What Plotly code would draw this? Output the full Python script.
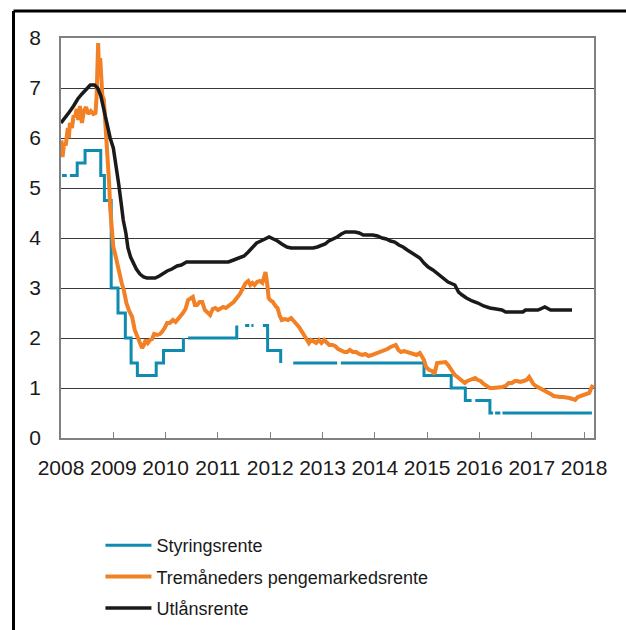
import plotly.graph_objects as go

# ---------------- data ----------------
# Styringsrente (step series, None = gap in the source series)
policy_x = [2008.02, 2008.11, None,
            2008.17, 2008.31, 2008.46, 2008.76, 2008.83, 2008.96, 2009.09, 2009.23,
            2009.34, 2009.46, 2009.82, 2009.96, 2010.34, None,
            2010.43, 2011.36, None,
            2011.52, 2011.60, None,
            2011.64, 2011.68, None,
            2011.86, 2011.95, 2012.20, None,
            2012.44, 2013.28, None,
            2013.35, 2014.94, 2015.46, 2015.73, 2015.85, None,
            2015.92, 2016.20, 2016.26, None,
            2016.30, 2016.40, None,
            2016.44, 2018.15]
policy_y = [5.25, 5.25, None,
            5.25, 5.5, 5.75, 5.25, 4.75, 3.0, 2.5, 2.0,
            1.5, 1.25, 1.5, 1.75, 2.0, None,
            2.0, 2.25, None,
            2.25, 2.25, None,
            2.25, 2.25, None,
            2.25, 1.75, 1.5, None,
            1.5, 1.5, None,
            1.5, 1.25, 1.0, 0.75, 0.75, None,
            0.75, 0.5, 0.5, None,
            0.5, 0.5, None,
            0.5, 0.5]

# Tremåneders pengemarkedsrente
nibor_x = [2008.00, 2008.01, 2008.03, 2008.06, 2008.09, 2008.11, 2008.13, 2008.15, 2008.17, 2008.21,
           2008.24, 2008.27, 2008.30, 2008.33, 2008.36, 2008.40, 2008.44, 2008.48, 2008.52, 2008.57,
           2008.62, 2008.66, 2008.68, 2008.71, 2008.72, 2008.75, 2008.77, 2008.79, 2008.82, 2008.84,
           2008.86, 2008.90, 2008.92, 2008.94, 2008.96, 2008.98, 2009.00, 2009.03, 2009.06, 2009.09,
           2009.12, 2009.16, 2009.20, 2009.25, 2009.30, 2009.36, 2009.41, 2009.46, 2009.51, 2009.55,
           2009.58, 2009.62, 2009.66, 2009.70, 2009.74, 2009.78, 2009.84, 2009.89, 2009.93, 2009.98,
           2010.03, 2010.08, 2010.14, 2010.19, 2010.24, 2010.30, 2010.33, 2010.38, 2010.43, 2010.48,
           2010.52, 2010.56, 2010.60, 2010.65, 2010.70, 2010.75, 2010.80, 2010.85, 2010.90, 2010.95,
           2011.00, 2011.05, 2011.10, 2011.15, 2011.20, 2011.25, 2011.30, 2011.36, 2011.42, 2011.48,
           2011.53, 2011.58, 2011.62, 2011.66, 2011.70, 2011.75, 2011.80, 2011.85, 2011.88, 2011.91,
           2011.94, 2011.97, 2012.00, 2012.05, 2012.10, 2012.14, 2012.18, 2012.22, 2012.28, 2012.34,
           2012.40, 2012.44, 2012.50, 2012.55, 2012.60, 2012.65, 2012.70, 2012.74, 2012.78, 2012.83,
           2012.88, 2012.93, 2012.98, 2013.03, 2013.08, 2013.13, 2013.19, 2013.24, 2013.30, 2013.36,
           2013.42, 2013.47, 2013.52, 2013.58, 2013.64, 2013.70, 2013.76, 2013.82, 2013.88, 2013.94,
           2014.00, 2014.06, 2014.12, 2014.18, 2014.24, 2014.30, 2014.36, 2014.40, 2014.45, 2014.50,
           2014.56, 2014.62, 2014.68, 2014.74, 2014.80, 2014.86, 2014.90, 2014.94, 2014.98, 2015.04,
           2015.09, 2015.14, 2015.19, 2015.25, 2015.30, 2015.35, 2015.40, 2015.44, 2015.48, 2015.53,
           2015.58, 2015.63, 2015.67, 2015.72, 2015.77, 2015.82, 2015.87, 2015.92, 2015.97, 2016.02,
           2016.08, 2016.14, 2016.20, 2016.26, 2016.32, 2016.38, 2016.44, 2016.50, 2016.56, 2016.62,
           2016.68, 2016.72, 2016.78, 2016.84, 2016.90, 2016.95, 2016.99, 2017.03, 2017.08, 2017.12,
           2017.18, 2017.24, 2017.30, 2017.36, 2017.42, 2017.48, 2017.54, 2017.60, 2017.66, 2017.72,
           2017.78, 2017.83, 2017.88, 2017.94, 2018.00, 2018.06, 2018.10, 2018.13, 2018.17]
nibor_y = [5.70, 5.95, 5.62, 5.90, 5.85, 6.02, 6.20, 6.00, 6.30, 6.20,
           6.45, 6.42, 6.58, 6.36, 6.64, 6.30, 6.55, 6.62, 6.48, 6.54,
           6.48, 6.50, 6.82, 7.90, 7.55, 7.60, 7.10, 6.85, 6.76, 6.42,
           6.20, 5.70, 5.10, 4.60, 4.30, 3.95, 3.82, 3.70, 3.55, 3.36,
           3.30, 3.10, 2.96, 2.70, 2.55, 2.42, 2.16, 2.00, 1.90, 1.80,
           1.85, 1.96, 1.90, 1.96, 1.98, 2.08, 2.06, 2.08, 2.12, 2.20,
           2.30, 2.30, 2.36, 2.32, 2.40, 2.46, 2.50, 2.58, 2.76, 2.80,
           2.82, 2.66, 2.66, 2.72, 2.72, 2.56, 2.52, 2.46, 2.58, 2.60,
           2.56, 2.58, 2.62, 2.60, 2.64, 2.70, 2.72, 2.80, 2.88, 3.00,
           3.10, 3.14, 3.06, 3.10, 3.06, 3.12, 3.14, 3.10, 3.20, 3.32,
           3.10, 2.80, 2.76, 2.72, 2.64, 2.60, 2.45, 2.36, 2.38, 2.36,
           2.40, 2.36, 2.28, 2.22, 2.14, 2.05, 1.98, 1.90, 1.96, 1.94,
           1.90, 1.96, 1.90, 1.96, 1.92, 1.86, 1.86, 1.84, 1.78, 1.74,
           1.72, 1.72, 1.76, 1.72, 1.72, 1.68, 1.66, 1.68, 1.64, 1.66,
           1.68, 1.70, 1.72, 1.76, 1.78, 1.82, 1.84, 1.86, 1.76, 1.72,
           1.74, 1.72, 1.68, 1.68, 1.66, 1.70, 1.62, 1.56, 1.42, 1.36,
           1.34, 1.28, 1.50, 1.50, 1.52, 1.52, 1.46, 1.40, 1.32, 1.26,
           1.22, 1.18, 1.16, 1.10, 1.14, 1.16, 1.18, 1.20, 1.16, 1.14,
           1.08, 1.04, 1.00, 1.00, 1.00, 1.00, 1.02, 1.04, 1.10, 1.10,
           1.14, 1.14, 1.12, 1.14, 1.16, 1.22, 1.16, 1.08, 1.04, 1.02,
           0.98, 0.94, 0.92, 0.88, 0.84, 0.82, 0.82, 0.82, 0.82, 0.80,
           0.78, 0.76, 0.82, 0.84, 0.86, 0.88, 0.90, 0.98, 1.06]

# Utlånsrente
lending_x = [2008.00, 2008.08, 2008.16, 2008.24, 2008.32, 2008.40, 2008.48, 2008.56, 2008.64, 2008.70,
             2008.76, 2008.82, 2008.88, 2008.94, 2009.00, 2009.05, 2009.10, 2009.15, 2009.19, 2009.24,
             2009.28, 2009.33, 2009.38, 2009.44, 2009.51, 2009.58, 2009.64, 2009.72, 2009.80, 2009.88,
             2009.96, 2010.03, 2010.12, 2010.22, 2010.30, 2010.40, 2010.60, 2010.80, 2011.00, 2011.20,
             2011.30, 2011.40, 2011.50, 2011.58, 2011.66, 2011.74, 2011.82, 2011.90, 2011.98, 2012.06,
             2012.14, 2012.22, 2012.32, 2012.40, 2012.60, 2012.82, 2012.90, 2012.98, 2013.05, 2013.12,
             2013.20, 2013.28, 2013.36, 2013.44, 2013.52, 2013.62, 2013.70, 2013.78, 2013.96, 2014.05,
             2014.14, 2014.22, 2014.30, 2014.38, 2014.46, 2014.54, 2014.62, 2014.70, 2014.78, 2014.86,
             2014.94, 2015.02, 2015.11, 2015.20, 2015.30, 2015.40, 2015.53, 2015.60, 2015.67, 2015.75,
             2015.86, 2015.97, 2016.08, 2016.20, 2016.32, 2016.43, 2016.50, 2016.83, 2016.88, 2017.12,
             2017.25, 2017.36, 2017.77]
lending_y = [6.30, 6.40, 6.52, 6.64, 6.78, 6.88, 6.98, 7.06, 7.06, 7.00,
             6.85, 6.55, 6.30, 6.00, 5.80, 5.50, 5.10, 4.70, 4.36, 4.10,
             3.80, 3.62, 3.50, 3.38, 3.28, 3.22, 3.20, 3.20, 3.20, 3.24,
             3.30, 3.34, 3.38, 3.44, 3.46, 3.52, 3.52, 3.52, 3.52, 3.52,
             3.56, 3.60, 3.64, 3.72, 3.82, 3.90, 3.94, 3.98, 4.02, 3.98,
             3.94, 3.88, 3.82, 3.80, 3.80, 3.80, 3.82, 3.86, 3.88, 3.94,
             3.98, 4.02, 4.08, 4.12, 4.12, 4.12, 4.10, 4.06, 4.06, 4.04,
             4.00, 3.98, 3.94, 3.92, 3.86, 3.82, 3.76, 3.70, 3.66, 3.60,
             3.50, 3.42, 3.36, 3.28, 3.20, 3.12, 3.06, 2.92, 2.86, 2.80,
             2.74, 2.70, 2.64, 2.60, 2.58, 2.56, 2.52, 2.52, 2.56, 2.56,
             2.62, 2.56, 2.56]

year_ticks = [2008, 2009, 2010, 2011, 2012, 2013, 2014, 2015, 2016, 2017, 2018]
year_labels = [str(y) for y in year_ticks]
y_ticks = [0, 1, 2, 3, 4, 5, 6, 7, 8]

series_names = ["Styringsrente", "Tremåneders pengemarkedsrente", "Utlånsrente"]
colors = ["#0f8bb0", "#f28025", "#1a1a1a"]

# ---------------- figure ----------------
fig = go.Figure()
fig.add_trace(go.Scatter(x=policy_x, y=policy_y, mode="lines", name=series_names[0], legendgroup="a",
                         line=dict(color=colors[0], width=3, shape="hv"), connectgaps=False))
fig.add_trace(go.Scatter(x=nibor_x, y=nibor_y, mode="lines", name=series_names[1], legendgroup="b",
                         line=dict(color=colors[1], width=4)))
fig.add_trace(go.Scatter(x=lending_x, y=lending_y, mode="lines", name=series_names[2], legendgroup="c",
                         line=dict(color=colors[2], width=3.5)))

font_family = "Liberation Sans, Arial, sans-serif"

fig.update_layout(
    width=626, height=630,
    margin=dict(l=61, r=32, t=38, b=192),
    paper_bgcolor="white", plot_bgcolor="white",
    font=dict(family=font_family, color="#1a1a1a", size=18),
    showlegend=True,
    legend=dict(x=0.074, y=0.1635, xref="paper", yref="container", xanchor="left", yanchor="top",
                font=dict(size=18, color="#1a1a1a"), tracegroupgap=5,
                itemwidth=46, bgcolor="rgba(0,0,0,0)"),
    xaxis=dict(range=[2008.0, 2018.19], tickmode="array", tickvals=year_ticks, ticktext=year_labels,
               showgrid=False, zeroline=False, showline=True, linecolor="#808080", linewidth=1.5,
               mirror=True, ticks="inside", ticklen=6, tickcolor="#808080", tickwidth=1,
               tickfont=dict(size=21, color="#1a1a1a"), ticklabelstandoff=10),
    yaxis=dict(range=[0, 8], tickmode="array", tickvals=y_ticks,
               showgrid=True, gridcolor="#3a3a3a", gridwidth=1, zeroline=False,
               showline=True, linecolor="#808080", linewidth=1.5, mirror=True, ticks="",
               tickfont=dict(size=21, color="#1a1a1a"), ticklabelstandoff=14),
)

# outer frame (top and left edges of the surrounding box)
fig.add_shape(type="line", xref="paper", yref="paper", x0=-0.0891, x1=1.2, y0=1.0675, y1=1.0675,
              line=dict(color="black", width=3))
fig.add_shape(type="line", xref="paper", yref="paper", x0=-0.0891, x1=-0.0891, y0=1.0675, y1=-0.6,
              line=dict(color="black", width=3))

fig.write_html("out.html", config={"displayModeBar": False},
               post_script="document.body.style.margin='0px';")
